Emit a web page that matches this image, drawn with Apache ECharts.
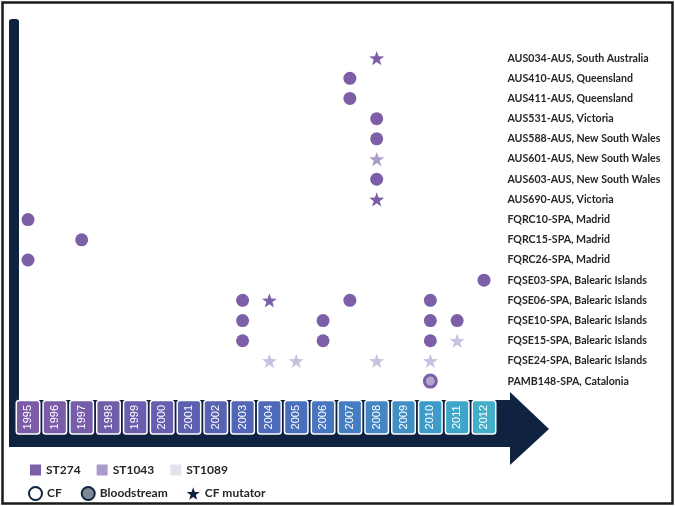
<!DOCTYPE html>
<html>
<head>
<meta charset="utf-8">
<script src="https://cdn.jsdelivr.net/npm/echarts@6/dist/echarts.min.js"></script>
<style>
html,body{margin:0;padding:0;background:#fff;}
#chart{width:675px;height:506px;}
</style>
</head>
<body>
<div id="chart"></div>
<script>
// ---- data ----
const years = ['1995','1996','1997','1998','1999','2000','2001','2002','2003','2004','2005','2006','2007','2008','2009','2010','2011','2012'];
const strains = [
  'AUS034-AUS, South Australia',
  'AUS410-AUS, Queensland',
  'AUS411-AUS, Queensland',
  'AUS531-AUS, Victoria',
  'AUS588-AUS, New South Wales',
  'AUS601-AUS, New South Wales',
  'AUS603-AUS, New South Wales',
  'AUS690-AUS, Victoria',
  'FQRC10-SPA, Madrid',
  'FQRC15-SPA, Madrid',
  'FQRC26-SPA, Madrid',
  'FQSE03-SPA, Balearic Islands',
  'FQSE06-SPA, Balearic Islands',
  'FQSE10-SPA, Balearic Islands',
  'FQSE15-SPA, Balearic Islands',
  'FQSE24-SPA, Balearic Islands',
  'PAMB148-SPA, Catalonia'
];
// [year, strain index]
const st274CF = [
  ['2007',1],['2007',2],['2008',3],['2008',4],['2008',6],
  ['1995',8],['1997',9],['1995',10],['2012',11],
  ['2003',12],['2007',12],['2010',12],
  ['2003',13],['2006',13],['2010',13],['2011',13],
  ['2003',14],['2006',14],['2010',14]
];
const st274Mutator = [['2008',0],['2008',7],['2004',12]];
const st1043Mutator = [['2008',5]];
const st1089Mutator = [['2011',14],['2004',15],['2005',15],['2008',15],['2010',15]];
const st274Blood = [['2010',16]];
const stLegend = ['ST274','ST1043','ST1089'];
const typeLegend = ['CF','Bloodstream','CF mutator'];

// ---- styles ----
const yearColors = ['#7c5ca8','#7a5ca8','#775ca9','#725dab','#6d5dad','#665eaf','#5e5fb1','#5862b3','#5265b6','#4d69b9','#4a6fbc','#4875bf','#457dc1','#4386c3','#4090c5','#3e9ac7','#3fa5c9','#42b0cb'];
const C274 = '#7d5fa8', C1043 = '#ab9bcc', C1089 = '#c9c1e0', C1089L = '#e4e0ee';
const NAVY = '#0f2340';
const STAR = 'path://M0,-10L2.35,-3.24L9.51,-3.09L3.8,1.24L5.88,8.09L0,4L-5.88,8.09L-3.8,1.24L-9.51,-3.09L-2.35,-3.24Z';
const toPts = arr => arr.map(d => [d[0], strains[d[1]]]);

const rich = {};
years.forEach((y,i) => {
  rich['y'+y] = {
    backgroundColor: yearColors[i], color:'#fff', borderColor:'#fff', borderWidth:1.5,
    borderRadius:2, width:26, height:14, lineHeight:14, padding:[4,3,4,3], align:'center',
    fontSize:11, fontFamily:'Liberation Sans'
  };
});

const chart = echarts.init(document.getElementById('chart'), null, {renderer:'canvas'});
const labelFont = 'Lato';
const legText = {fontSize:12, fontWeight:'bold', color:'#262626', fontFamily:labelFont};
chart.setOption({
  animation:false,
  backgroundColor:'#fff',
  grid:{left:14.6, right:177.6, top:48, bottom:114.8},
  xAxis:{type:'category', data:years, boundaryGap:true, position:'bottom',
    axisLine:{show:false}, axisTick:{show:false}, splitLine:{show:false},
    axisLabel:{interval:0, rotate:90, margin:10, formatter: v => '{y'+v+'|'+v+'}', rich: rich}},
  yAxis:{type:'category', data:strains, inverse:true, position:'right',
    axisLine:{show:false}, axisTick:{show:false}, splitLine:{show:false},
    axisLabel:{margin:10, align:'left', color:'#262626', fontSize:10.6, fontWeight:'bold', fontFamily:labelFont}},
  legend:[
    {data:[{name:'ST274'},{name:'ST1043'},{name:'ST1089', itemStyle:{color:C1089L}}], left:25, top:459, icon:'rect', itemWidth:11, itemHeight:11, itemGap:16,
      textStyle:legText, selectedMode:false},
    {data:typeLegend, left:23, top:481, itemWidth:13, itemHeight:13, itemGap:19,
      textStyle:legText, selectedMode:false}
  ],
  graphic:[
    {type:'rect', z:-10, shape:{x:2.5, y:2.5, width:670, height:501}, style:{fill:'#fff', stroke:'#1a1a1a', lineWidth:2.5}},
    {type:'rect', z:-5, shape:{x:9, y:19, width:10, height:428, r:[3,3,0,0]}, style:{fill:NAVY}},
    {type:'rect', z:-5, shape:{x:9, y:400, width:503, height:47}, style:{fill:NAVY}},
    {type:'polygon', z:-5, shape:{points:[[510,392],[549,429],[510,465]]}, style:{fill:NAVY}}
  ],
  series:[
    {name:'ST274', type:'scatter', symbol:'circle', symbolSize:13, data:toPts(st274CF), itemStyle:{color:C274, opacity:1}},
    {name:'ST274', type:'scatter', symbol:STAR, symbolKeepAspect:true, symbolSize:15, data:toPts(st274Mutator), itemStyle:{color:C274, opacity:1}},
    {name:'ST274', type:'scatter', symbol:'circle', symbolSize:12, data:toPts(st274Blood), itemStyle:{color:'#b3a6cc', borderColor:C274, borderWidth:3, opacity:1}},
    {name:'ST1043', type:'scatter', symbol:STAR, symbolKeepAspect:true, symbolSize:15, data:toPts(st1043Mutator), itemStyle:{color:C1043, opacity:1}},
    {name:'ST1089', type:'scatter', symbol:STAR, symbolKeepAspect:true, symbolSize:15, data:toPts(st1089Mutator), itemStyle:{color:C1089, opacity:1}},
    {name:'CF', type:'scatter', data:[], symbol:'circle', itemStyle:{color:'#fff', borderColor:NAVY, borderWidth:3, opacity:1}},
    {name:'Bloodstream', type:'scatter', data:[], symbol:'circle', itemStyle:{color:'#7d8895', borderColor:NAVY, borderWidth:2.5, opacity:1}},
    {name:'CF mutator', type:'scatter', data:[], symbol:STAR, itemStyle:{color:NAVY, opacity:1}}
  ]
});
</script>
</body>
</html>
